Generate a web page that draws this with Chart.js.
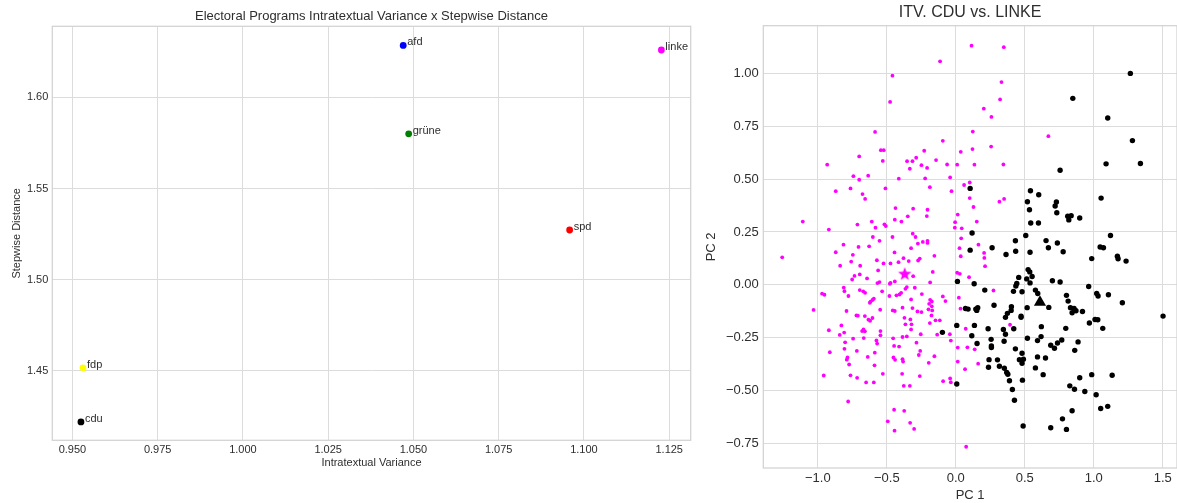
<!DOCTYPE html>
<html>
<head>
<meta charset="utf-8">
<title>Electoral Programs</title>
<script src="https://cdn.jsdelivr.net/npm/chart.js@4.4.1/dist/chart.umd.min.js"></script>
<style>
    html, body { margin: 0; padding: 0; background: #fff; overflow: hidden; }
    #wrap { position: relative; width: 1177px; height: 503px; }
    #scatterChart { position: absolute; left: 0; top: 0; }
    #pcaChart { position: absolute; left: 700px; top: 0; }
</style>
</head>
<body>
<div id="wrap">
    <canvas id="scatterChart" width="700" height="503"></canvas>
    <canvas id="pcaChart" width="477" height="503"></canvas>
</div>
<script>
// ---- left chart data ----
const parties = ['afd', 'cdu', 'fdp', 'grüne', 'linke', 'spd'];
const intratextualVariance = [1.0470, 0.9525, 0.9531, 1.0486, 1.1227, 1.0958];
const stepwiseDistance = [1.6285, 1.4219, 1.4516, 1.5800, 1.6260, 1.5272];
const partyColors = ['#0000ff', '#000000', '#ffff00', '#008000', '#ff00ff', '#ff0000'];
const leftXTicks = [0.950, 0.975, 1.000, 1.025, 1.050, 1.075, 1.100, 1.125];
const leftYTicks = [1.45, 1.50, 1.55, 1.60];

// ---- right chart data (PC 1, PC 2) ----
const linkePoints = [
    [0.114,1.131],[-0.114,1.057],[-0.459,0.989],[-0.476,0.865],[-0.585,0.723],[-0.094,0.681],[0.123,0.725],[0.121,0.642],
    [0.135,0.568],[0.036,0.629],[-0.543,0.637],[-0.522,0.637],[-0.529,0.586],[-0.700,0.607],[-0.229,0.634],[-0.143,0.590],
    [-0.063,0.569],[0.010,0.568],[-0.353,0.585],[-0.314,0.585],[-0.287,0.601],[-0.249,0.566],[-0.208,0.553],[-0.333,0.549],
    [-0.932,0.568],[-0.742,0.514],[-0.635,0.516],[-0.700,0.497],[-0.763,0.456],[-0.870,0.443],[-0.676,0.429],[-0.657,0.406],
    [-0.510,0.456],[-0.413,0.502],[-0.222,0.503],[-0.188,0.462],[-0.041,0.508],[-0.031,0.443],[0.060,0.472],[0.101,0.484],
    [0.101,0.410],[0.128,0.368],[0.014,0.332],[-0.005,0.296],[-0.007,0.270],[0.043,0.267],[0.152,0.299],[0.039,0.220],
    [-1.109,0.299],[-0.920,0.261],[-0.713,0.285],[-0.609,0.299],[-0.582,0.270],[-0.517,0.286],[-0.507,0.278],[-0.437,0.363],
    [-0.442,0.308],[-0.394,0.299],[-0.348,0.324],[-0.309,0.360],[-0.205,0.355],[-0.210,0.325],[-0.601,0.226],[-0.553,0.208],
    [-0.459,0.226],[-0.312,0.242],[-0.292,0.226],[-0.205,0.208],[-0.205,0.198],[-0.239,0.203],[-0.275,0.195],[-0.814,0.190],
    [-0.705,0.179],[-0.628,0.182],[-0.324,0.173],[0.164,0.190],
    [0.348,1.124],[0.331,0.959],[0.321,0.877],[0.203,0.833],[0.258,0.794],[0.256,0.654],[0.345,0.569],[0.671,0.703],
    [0.316,0.393],[0.350,0.406],
    [0.205,0.151],[0.207,0.127],[0.212,0.088],[0.096,0.036],[0.273,-0.027],[0.393,-0.189],[0.072,-0.208],[0.084,-0.296],
    [0.137,-0.305],[0.067,-0.399],[0.162,-0.373],[0.075,-0.766],
    [-1.258,0.130],[-1.031,-0.119],[-0.969,-0.042],[-0.952,-0.047],[-0.920,-0.215],[-0.913,-0.319],[-0.957,-0.429],[-0.870,0.154],
    [-0.838,0.090],[-0.746,0.142],[-0.758,0.110],[-0.693,0.090],[-0.734,0.042],[-0.751,0.025],[-0.812,-0.013],[-0.807,-0.030],
    [-0.778,-0.053],[-0.792,-0.124],[-0.829,-0.192],[-0.841,-0.237],[-0.809,-0.226],[-0.802,-0.272],[-0.807,-0.303],[-0.785,-0.344],
    [-0.790,-0.354],[-0.773,-0.377],[-0.763,-0.428],[-0.780,-0.552],[-0.744,-0.255],[-0.717,-0.313],[-0.715,-0.440],[-0.720,-0.145],
    [-0.710,-0.146],[-0.659,-0.148],[-0.633,-0.165],[-0.621,-0.170],[-0.604,-0.157],[-0.679,-0.219],[-0.669,-0.211],[-0.659,-0.220],
    [-0.667,-0.252],[-0.638,-0.341],[-0.650,-0.462],[-0.589,-0.381],[-0.594,-0.462],[-0.587,-0.321],[-0.575,-0.263],[-0.570,-0.278],
    [-0.546,-0.219],[-0.546,-0.239],[-0.529,-0.421],[-0.548,-0.118],[-0.696,0.049],[-0.696,-0.025],[-0.671,-0.031],[-0.657,-0.038],
    [-0.643,0.030],[-0.618,-0.080],[-0.623,-0.085],[-0.604,-0.072],[-0.594,-0.066],[-0.572,0.116],[-0.563,0.068],[-0.553,0.013],
    [-0.568,0.008],[-0.534,-0.031],[-0.524,0.101],[-0.473,0.101],[-0.444,0.153],[-0.478,0.005],[-0.473,0.009],[-0.481,-0.053],
    [-0.442,0.016],[-0.430,-0.050],[-0.457,-0.121],[-0.442,-0.124],[-0.386,-0.108],[-0.372,-0.156],[-0.365,-0.187],[-0.386,-0.247],
    [-0.355,-0.244],[-0.321,-0.187],[-0.324,-0.211],[-0.329,-0.164],[-0.314,-0.110],[-0.278,-0.126],[-0.249,-0.129],[-0.254,-0.234],
    [-0.285,-0.274],[-0.268,-0.332],[-0.258,-0.313],[-0.454,-0.253],[-0.447,-0.289],[-0.411,-0.292],[-0.452,-0.344],[-0.440,-0.355],
    [-0.386,-0.352],[-0.382,-0.363],[-0.389,-0.421],[-0.377,-0.478],[-0.333,-0.478],[-0.261,-0.432],[-0.196,-0.369],[-0.155,-0.338],
    [-0.036,-0.264],[-0.041,-0.443],[-0.092,-0.456],[-0.447,-0.591],[-0.374,-0.596],[-0.493,-0.646],[-0.444,-0.690],[-0.331,-0.653],
    [-0.302,-0.682],[-0.415,0.107],[-0.379,0.126],[-0.341,0.112],[-0.309,0.041],[-0.355,-0.011],[-0.365,-0.019],[-0.297,-0.014],
    [-0.396,-0.038],[-0.408,-0.046],[-0.324,-0.069],[-0.261,0.124],[-0.273,0.115],[-0.155,0.137],[-0.167,0.061],[-0.186,0.011],
    [-0.246,-0.044],[-0.186,-0.071],[-0.174,-0.079],[-0.193,-0.090],[-0.198,-0.116],[-0.174,-0.102],[-0.171,-0.121],[-0.176,-0.145],
    [-0.188,-0.181],[-0.147,-0.168],[-0.116,-0.168],[-0.135,-0.236],[-0.094,-0.055],[-0.075,-0.077],[-0.043,-0.234],[0.010,0.057],
    [0.029,0.052],[0.022,-0.061],[0.034,-0.113],[0.014,-0.297],[0.014,-0.363],[-0.036,-0.461],[0.027,0.173],[0.036,0.135]
];
const cduPoints = [
    [1.265,1.000],[0.848,0.882],[1.101,0.789],[1.280,0.682],[1.089,0.572],[1.338,0.574],[0.756,0.542],[0.104,0.456],
    [0.541,0.445],[0.601,0.426],[0.519,0.393],[0.534,0.355],[0.729,0.392],[0.720,0.373],[0.732,0.341],[0.811,0.324],
    [0.836,0.327],[0.819,0.307],[0.898,0.316],[0.543,0.292],[0.599,0.292],[1.053,0.410],[0.118,0.245],[0.432,0.208],
    [0.507,0.233],[0.654,0.209],[0.736,0.198],[1.121,0.233],[0.263,0.175],[0.671,0.175],[1.046,0.179],[1.070,0.175],
    [0.104,0.164],[0.364,0.143],[0.434,0.159],[0.538,0.154],[0.778,0.156],[0.985,0.124],[1.171,0.135],[1.176,0.123],
    [1.234,0.112],[0.133,0.005],[0.210,-0.025],[0.524,0.072],[0.536,0.061],[0.553,0.039],[0.456,0.035],[0.514,0.028],
    [0.538,0.009],[0.442,0.006],[0.435,-0.006],[0.418,-0.031],[0.480,-0.033],[0.577,-0.025],[0.594,-0.041],[0.700,0.019],
    [0.756,0.013],[0.963,-0.008],[1.021,-0.041],[1.031,-0.053],[1.106,-0.047],[1.207,-0.085],[1.502,-0.148],[0.802,-0.050],
    [0.814,-0.077],[0.831,-0.108],[0.843,-0.132],[0.857,-0.112],[0.871,-0.123],[0.918,-0.126],[0.674,-0.107],[0.517,-0.108],
    [0.277,-0.097],[0.403,-0.104],[0.401,-0.121],[0.374,-0.135],[0.360,-0.154],[0.473,-0.148],[0.473,-0.154],[0.070,-0.112],
    [0.089,-0.115],[0.145,-0.115],[0.159,-0.108],[0.152,-0.121],[0.968,-0.181],[1.009,-0.164],[1.029,-0.165],[1.065,-0.206],
    [0.797,-0.206],[0.620,-0.198],[0.618,-0.245],[0.592,-0.264],[0.519,-0.253],[0.420,-0.208],[0.345,-0.211],[0.360,-0.234],
    [0.350,-0.267],[0.234,-0.208],[0.135,-0.192],[0.116,-0.241],[0.154,-0.278],[0.256,-0.258],[0.258,-0.289],[0.258,-0.297],
    [0.688,-0.286],[0.715,-0.300],[0.737,-0.275],[0.768,-0.261],[0.886,-0.270],[0.862,-0.310],[0.432,-0.303],[0.480,-0.324],
    [0.490,-0.352],[0.480,-0.371],[0.461,-0.354],[0.592,-0.341],[0.650,-0.346],[0.577,-0.393],[0.633,-0.425],[0.483,-0.451],
    [0.241,-0.354],[0.302,-0.355],[0.237,-0.390],[0.316,-0.385],[0.352,-0.395],[0.369,-0.415],[0.377,-0.423],[0.389,-0.454],
    [0.410,-0.495],[0.425,-0.546],[0.488,-0.668],[0.688,-0.676],[0.802,-0.684],[0.773,-0.634],[0.843,-0.596],[0.826,-0.478],
    [0.860,-0.494],[0.898,-0.440],[0.935,-0.505],[0.985,-0.425],[1.017,-0.520],[1.050,-0.585],[1.101,-0.575],[1.133,-0.428],
    [0.012,0.016],[0.007,-0.192],[-0.097,-0.225],[0.007,-0.469]
];
const linkeCentroid = [-0.37, 0.05];
const cduCentroid = [0.61, -0.082];
const rightXTicks = [-1.0, -0.5, 0.0, 0.5, 1.0, 1.5];
const rightYTicks = [-0.75, -0.50, -0.25, 0.00, 0.25, 0.50, 0.75, 1.00];

const FONT = '"Liberation Sans", Arial, sans-serif';
const TEXT = '#2e2e2e';
const GRID = '#dcdcdc';

const toXY = p => ({ x: p[0], y: p[1] });
const minus = (v, d) => (v < 0 ? '\u2212' : '') + Math.abs(v).toFixed(d);

// fixed axis box sizes, no extra room for the end labels
const fixSize = (w, h) => s => {
    if (w !== null) s.width = w;
    if (h !== null) s.height = h;
    s.paddingLeft = s.paddingRight = s.paddingTop = s.paddingBottom = 0;
};

// title centered over the plot area (not the canvas)
const plotTitle = {
    id: 'plotTitle',
    afterDraw(chart, args, opts) {
        const { ctx, chartArea } = chart;
        ctx.save();
        ctx.font = opts.size + 'px ' + FONT;
        ctx.fillStyle = TEXT;
        ctx.textAlign = 'center';
        ctx.textBaseline = 'middle';
        ctx.fillText(opts.text, (chartArea.left + chartArea.right) / 2, opts.y);
        ctx.restore();
    }
};

// light frame round the axes
const plotFrame = {
    id: 'plotFrame',
    beforeDatasetsDraw(chart) {
        const { ctx, chartArea: a } = chart;
        ctx.save();
        ctx.strokeStyle = '#d2d2d2';
        ctx.lineWidth = 1.25;
        ctx.strokeRect(a.left, a.top, a.right - a.left, a.bottom - a.top);
        ctx.restore();
    }
};

// party names next to the dots
const partyLabels = {
    id: 'partyLabels',
    afterDatasetsDraw(chart) {
        const ctx = chart.ctx;
        ctx.save();
        ctx.font = '11px ' + FONT;
        ctx.fillStyle = TEXT;
        ctx.textAlign = 'left';
        ctx.textBaseline = 'alphabetic';
        chart.getDatasetMeta(0).data.forEach((pt, i) => {
            ctx.fillText(parties[i], pt.x + 4, pt.y);
        });
        ctx.restore();
    }
};

// Left chart
new Chart(document.getElementById('scatterChart'), {
    type: 'scatter',
    data: {
        datasets: [{
            data: parties.map((p, i) => ({ x: intratextualVariance[i], y: stepwiseDistance[i] })),
            backgroundColor: partyColors,
            borderWidth: 0,
            pointRadius: 3.4,
            pointHoverRadius: 3.4
        }]
    },
    plugins: [plotTitle, plotFrame, partyLabels],
    options: {
        responsive: false,
        animation: false,
        events: [],
        layout: { autoPadding: false, padding: { top: 26.3, right: 9.3, bottom: 33.4, left: 0 } },
        plugins: {
            legend: { display: false },
            tooltip: { enabled: false },
            plotTitle: { text: 'Electoral Programs Intratextual Variance x Stepwise Distance', size: 13, y: 16.5 }
        },
        scales: {
            x: {
                type: 'linear',
                min: 0.9441,
                max: 1.1313,
                afterBuildTicks: s => { s.ticks = leftXTicks.map(v => ({ value: v })); },
                afterFit: fixSize(null, 29.3),
                grid: { color: GRID, lineWidth: 1, drawTicks: false },
                border: { display: false },
                ticks: {
                    color: TEXT, padding: 3, autoSkip: false, maxRotation: 0,
                    font: { family: FONT, size: 11 },
                    callback: v => v.toFixed(3)
                },
                title: {
                    display: true, text: 'Intratextual Variance', color: TEXT,
                    font: { family: FONT, size: 11 }, padding: { top: 0, bottom: 0 }
                }
            },
            y: {
                type: 'linear',
                min: 1.4118,
                max: 1.639,
                afterBuildTicks: s => { s.ticks = leftYTicks.map(v => ({ value: v })); },
                afterFit: fixSize(52.3, null),
                grid: { color: GRID, lineWidth: 1, drawTicks: false },
                border: { display: false },
                ticks: {
                    color: TEXT, padding: 4, autoSkip: false,
                    font: { family: FONT, size: 11 },
                    callback: v => v.toFixed(2)
                },
                title: {
                    display: true, text: 'Stepwise Distance', color: TEXT,
                    font: { family: FONT, size: 11 }, padding: { top: 10, bottom: 0 }
                }
            }
        }
    }
});

// Right chart

// filled five-point star marker
function starMarker(r, color) {
    const c = document.createElement('canvas');
    const size = Math.ceil(r * 2) + 2;
    c.width = size;
    c.height = size;
    const g = c.getContext('2d');
    g.fillStyle = color;
    g.beginPath();
    for (let i = 0; i < 10; i++) {
        const rad = i % 2 === 0 ? r : r * 0.42;
        const a = -Math.PI / 2 + i * Math.PI / 5;
        g.lineTo(size / 2 + rad * Math.cos(a), size / 2 + rad * Math.sin(a));
    }
    g.closePath();
    g.fill();
    return c;
}

new Chart(document.getElementById('pcaChart'), {
    type: 'scatter',
    data: {
        datasets: [{
            data: [toXY(cduCentroid)],
            pointStyle: 'triangle',
            backgroundColor: '#000',
            borderWidth: 0,
            pointRadius: 7,
            pointHoverRadius: 7
        }, {
            data: [toXY(linkeCentroid)],
            pointStyle: starMarker(7, '#ff00ff'),
            backgroundColor: '#ff00ff',
            borderWidth: 0,
            pointRadius: 7,
            pointHoverRadius: 7
        }, {
            data: cduPoints.map(toXY),
            backgroundColor: '#000',
            borderWidth: 0,
            pointRadius: 2.7,
            pointHoverRadius: 2.7
        }, {
            data: linkePoints.map(toXY),
            backgroundColor: '#ff00ff',
            borderWidth: 0,
            pointRadius: 1.9,
            pointHoverRadius: 1.9
        }]
    },
    plugins: [plotTitle, plotFrame],
    options: {
        responsive: false,
        animation: false,
        events: [],
        layout: { autoPadding: false, padding: { top: 25.7, right: 0, bottom: 0, left: 0 } },
        plugins: {
            legend: { display: false },
            tooltip: { enabled: false },
            plotTitle: { text: 'ITV. CDU vs. LINKE', size: 16, y: 13 }
        },
        scales: {
            x: {
                type: 'linear',
                min: -1.395,
                max: 1.603,
                afterBuildTicks: s => { s.ticks = rightXTicks.map(v => ({ value: v })); },
                afterFit: fixSize(null, 35),
                grid: { color: GRID, lineWidth: 1, drawTicks: false },
                border: { display: false },
                ticks: {
                    color: TEXT, padding: 3, autoSkip: false, maxRotation: 0,
                    font: { family: FONT, size: 13 },
                    callback: v => minus(v, 1)
                },
                title: {
                    display: true, text: 'PC 1', color: TEXT,
                    font: { family: FONT, size: 13, lineHeight: 1 }, padding: { top: 0, bottom: 1 }
                }
            },
            y: {
                type: 'linear',
                min: -0.8666,
                max: 1.2256,
                afterBuildTicks: s => { s.ticks = rightYTicks.map(v => ({ value: v })); },
                afterFit: fixSize(63.3, null),
                grid: { color: GRID, lineWidth: 1, drawTicks: false },
                border: { display: false },
                ticks: {
                    color: TEXT, padding: 4.5, autoSkip: false,
                    font: { family: FONT, size: 13 },
                    callback: v => minus(v, 2)
                },
                title: {
                    display: true, text: 'PC 2', color: TEXT,
                    font: { family: FONT, size: 13, lineHeight: 1 }, padding: { top: 5, bottom: 0 }
                }
            }
        }
    }
});
</script>
</body>
</html>
